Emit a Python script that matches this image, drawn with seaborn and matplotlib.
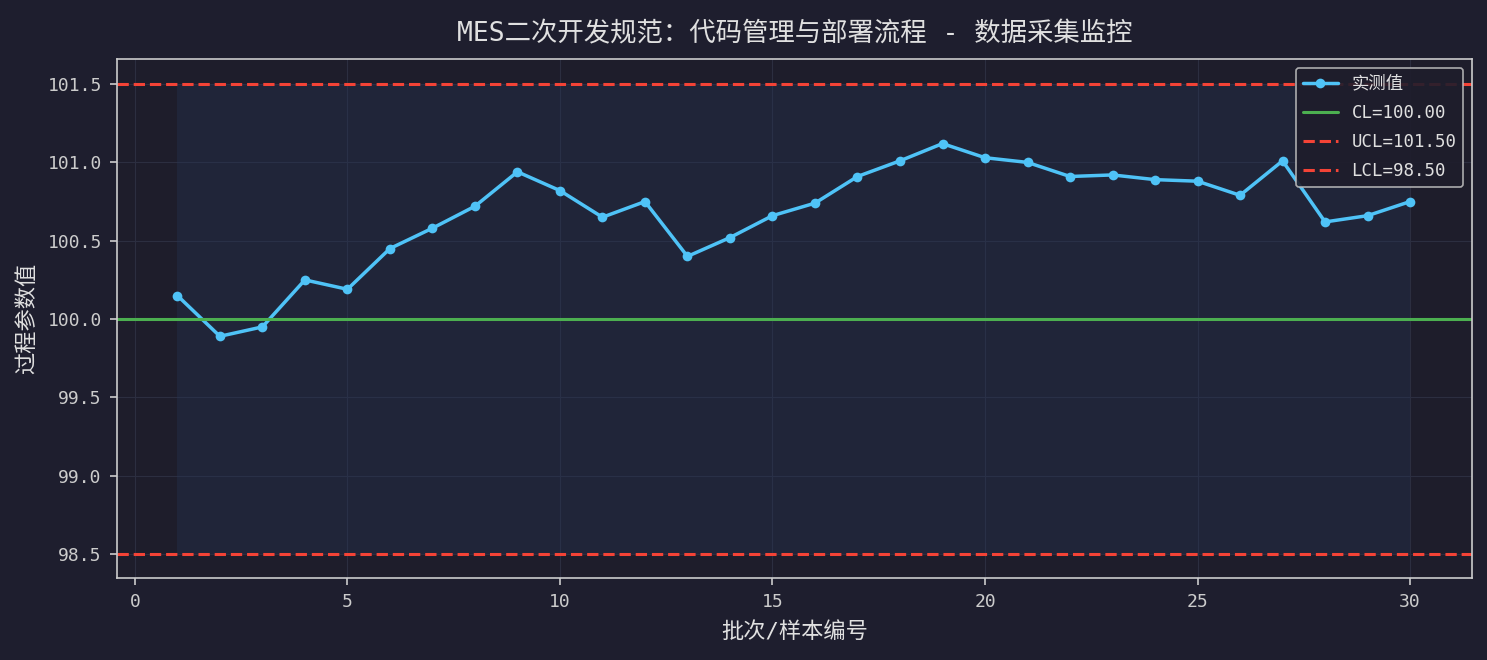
import numpy as np
import pandas as pd
import matplotlib
matplotlib.use("Agg")
import matplotlib.pyplot as plt
import seaborn as sns

# === Data ===
batches = list(range(1, 31))
measured = [100.15, 99.89, 99.95, 100.25, 100.19, 100.45, 100.58, 100.72, 100.94, 100.82,
            100.65, 100.75, 100.40, 100.52, 100.66, 100.74, 100.91, 101.01, 101.12, 101.03,
            101.00, 100.91, 100.92, 100.89, 100.88, 100.79, 101.01, 100.62, 100.66, 100.75]
CL = 100.00
UCL = 101.50
LCL = 98.50
yticks = [98.5, 99.0, 99.5, 100.0, 100.5, 101.0, 101.5]
xticks = [0, 5, 10, 15, 20, 25, 30]

title = "MES二次开发规范：代码管理与部署流程 - 数据采集监控"
xlabel = "批次/样本编号"
ylabel = "过程参数值"

# === Style ===
BG = "#1e1e2e"
AX_BG = "#1e1d2b"
TEXT = "#e0e0e0"
sns.set_theme(style="darkgrid", rc={
    "figure.facecolor": BG,
    "axes.facecolor": AX_BG,
    "axes.edgecolor": "#cccccc",
    "axes.labelcolor": TEXT,
    "text.color": TEXT,
    "xtick.color": "#cccccc",
    "ytick.color": "#cccccc",
    "grid.color": "#2c2e40",
    "grid.linewidth": 0.8,
    "xtick.bottom": True,
    "ytick.left": True,
})
# mono latin + CJK fallback
plt.rcParams["font.family"] = ["DejaVu Sans Mono", "Noto Sans CJK SC"]
plt.rcParams["axes.unicode_minus"] = False

df = pd.DataFrame({"batch": batches, "value": measured})

fig, ax = plt.subplots(figsize=(14.87, 6.6), dpi=100)
fig.subplots_adjust(left=0.0787, right=0.99, top=0.9106, bottom=0.1242)

# control band between limits
ax.fill_between(batches, LCL, UCL, color="#243556", alpha=0.35, linewidth=0)

sns.lineplot(data=df, x="batch", y="value", ax=ax, color="#4fc3f7", linewidth=2.5,
             marker="o", markersize=7, markeredgewidth=0, label="实测值")
ax.axhline(CL, color="#4caf50", linewidth=2.2, label=f"CL={CL:.2f}")
ax.axhline(UCL, color="#f44336", linewidth=2.2, linestyle="--", label=f"UCL={UCL:.2f}")
ax.axhline(LCL, color="#f44336", linewidth=2.2, linestyle="--", label=f"LCL={LCL:.2f}")

ax.set_xlim(-0.42, 31.46)
ax.set_ylim(98.347, 101.66)
ax.set_yticks(yticks)
ax.set_yticklabels([f"{v:.1f}" for v in yticks])
ax.set_xticks(xticks)
ax.tick_params(labelsize=13, length=5, width=1.2, pad=6)

ax.set_title(title, fontsize=19, color=TEXT, pad=13)
ax.set_xlabel(xlabel, fontsize=16, color=TEXT, labelpad=7)
ax.set_ylabel(ylabel, fontsize=16, color=TEXT, labelpad=7)

for s in ax.spines.values():
    s.set_color("#cccccc")
    s.set_linewidth(1.2)

leg = ax.legend(loc="upper right", fontsize=12.5, facecolor=AX_BG, edgecolor="#bbbbbb",
                framealpha=0.9, labelcolor=TEXT, labelspacing=0.65)
leg.get_frame().set_linewidth(1.2)

fig.savefig("out.png", dpi=100, facecolor=BG)
